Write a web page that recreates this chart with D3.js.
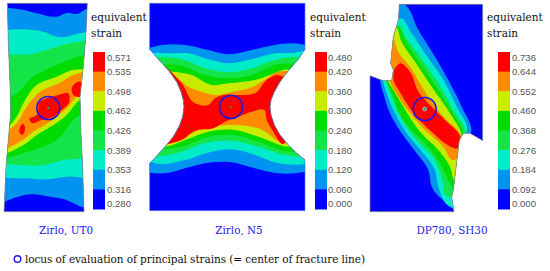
<!DOCTYPE html>
<html>
<head>
<meta charset="utf-8">
<script src="https://cdnjs.cloudflare.com/ajax/libs/d3/7.8.5/d3.min.js"></script>
<style>
  body { margin: 0; background: #fff; }
  svg { display: block; }
  .head { font-family: "DejaVu Serif", serif; font-size: 10.5px; fill: #111; }
  .cap { font-family: "DejaVu Serif", serif; font-size: 10.4px; fill: #2222ee; text-anchor: middle; }
  .tick { font-family: "Liberation Sans", sans-serif; font-size: 9.6px; fill: #555; }
</style>
</head>
<body>
<div id="graphic"></div>
<script>
// colour bands, lowest to highest
const bandColors = ["#0000ff", "#0094f0", "#00ecc8", "#14e448", "#00dc00", "#c8ec00", "#ff8c00", "#ff0000"];

// legend labels, top to bottom
const ticksUT0 = ["0.571", "0.535", "0.498", "0.462", "0.426", "0.389", "0.353", "0.316", "0.280"];
const ticksN5 = ["0.480", "0.420", "0.360", "0.300", "0.240", "0.180", "0.120", "0.060", "0.000"];
const ticksSH30 = ["0.736", "0.644", "0.552", "0.460", "0.368", "0.276", "0.184", "0.092", "0.000"];

const captions = ["Zirlo, UT0", "Zirlo, N5", "DP780, SH30"];
const footnote = "locus of evaluation of principal strains (= center of fracture line)";

// contour outlines, in 1/3 pixel units of each panel
const outlineUT0 = [[22,10],[262,10],[258,100],[250,200],[240,290],[243,400],[248,500],[252,635],[12,635],[18,500],[25,420],[32,340],[30,250],[25,130]];
const skyUT0 = [[0,24],[22,24],[60,28],[110,40],[170,50],[205,38],[230,42],[262,26],[290,26],[290,625],[252,622],[190,597],[150,590],[90,583],[40,595],[0,610]];
const cyanUT0 = [[0,95],[70,88],[130,95],[180,112],[240,100],[290,92],[290,535],[200,530],[140,538],[80,535],[0,530]];
const green1UT0 = [[0,165],[90,163],[140,150],[200,132],[290,122],[290,470],[190,480],[120,497],[60,495],[0,490]];
const green2UT0 = [[0,310],[50,280],[100,230],[170,195],[290,165],[290,335],[240,345],[170,420],[100,450],[0,470]];
const yellowUT0 = [[0,395],[30,375],[50,350],[70,310],[110,255],[170,230],[210,212],[248,208],[270,208],[270,290],[240,300],[200,345],[160,375],[110,405],[70,435],[0,460]];
const orangeUT0 = [[0,405],[25,390],[50,370],[80,320],[120,275],[180,248],[220,225],[270,218],[270,270],[242,280],[200,325],[150,365],[100,395],[60,425],[0,445]];
const redUT0a = [[88,358],[110,345],[120,305],[140,295],[175,285],[205,280],[208,305],[185,330],[160,350],[125,360],[95,368]];
const redUT0b = [[215,265],[235,245],[255,250],[250,290],[220,285]];
const redUT0c = [[58,395],[70,372],[75,380],[65,405]];

const outlineN5 = [[14,10],[480,10],[480,148],[460,178],[430,212],[405,245],[388,275],[378,300],[375,320],[378,345],[388,375],[405,405],[430,435],[455,460],[480,480],[480,632],[14,632],[14,490],[35,468],[60,440],[85,410],[103,378],[113,350],[117,320],[115,300],[108,275],[95,245],[70,210],[40,178],[14,148]];
const skyN5 = [[0,148],[50,135],[120,135],[190,150],[250,163],[320,150],[390,135],[440,130],[500,140],[500,510],[445,520],[400,520],[330,505],[260,487],[200,487],[120,505],[60,520],[0,515]];
const cyanN5 = [[0,160],[70,160],[130,160],[190,178],[250,190],[320,178],[390,160],[450,158],[500,148],[500,488],[400,490],[330,465],[260,448],[200,455],[120,480],[50,492],[0,480]];
const green1N5 = [[0,178],[110,178],[180,205],[250,217],[320,205],[390,180],[500,175],[500,470],[420,465],[340,440],[260,422],[190,427],[100,458],[0,468]];
const green2N5 = [[30,197],[110,197],[180,225],[250,235],[320,225],[390,195],[470,195],[470,455],[430,455],[340,425],[265,405],[190,410],[110,440],[30,445]];
const yellowN5 = [[40,215],[85,215],[140,225],[200,255],[250,250],[330,240],[375,225],[415,210],[460,210],[460,440],[430,440],[340,410],[270,390],[190,395],[120,420],[60,440],[30,440]];
const orangeN5 = [[60,235],[95,235],[130,260],[170,275],[215,285],[265,275],[320,262],[355,242],[400,215],[440,215],[440,430],[420,430],[340,385],[250,375],[190,382],[130,405],[70,432],[40,432]];
const redN5 = [[60,200],[110,250],[150,310],[190,315],[210,295],[235,285],[280,285],[330,280],[365,240],[395,225],[430,240],[430,410],[415,432],[385,395],[365,360],[358,330],[320,335],[280,350],[240,365],[205,385],[150,392],[110,420],[70,432],[40,440]];

const outlineSH30 = [[118,13],[368,13],[368,422],[330,400],[310,400],[298,420],[280,570],[275,590],[282,635],[30,635],[30,227],[70,242],[95,242],[100,210],[92,190],[100,110],[115,60]];
const skySH30 = [[118,0],[145,25],[170,80],[225,170],[270,250],[305,320],[332,400],[320,420],[300,660],[285,635],[215,560],[205,510],[170,460],[125,400],[90,340],[70,280],[60,240],[90,100]];
const cyanSH30 = [[125,55],[155,100],[195,160],[250,240],[290,320],[320,395],[300,420],[290,625],[270,620],[235,560],[225,510],[190,460],[140,400],[105,340],[80,280],[70,245],[90,120]];
const green1SH30 = [[118,75],[140,115],[180,170],[235,250],[280,330],[315,400],[300,430],[285,590],[265,590],[245,530],[225,480],[170,420],[120,350],[95,290],[78,245],[90,120]];
const green2SH30 = [[112,78],[135,120],[172,178],[225,255],[275,335],[310,402],[298,460],[283,570],[268,545],[240,490],[205,440],[150,385],[110,320],[90,268],[80,245],[88,120]];
const yellowSH30 = [[108,80],[125,125],[165,185],[215,260],[270,340],[305,405],[300,480],[282,540],[270,500],[235,450],[180,395],[130,320],[100,270],[85,245],[85,120]];
const orangeSH30 = [[100,115],[115,155],[150,200],[195,275],[250,350],[305,410],[300,470],[280,480],[250,440],[195,390],[150,340],[115,290],[90,245],[85,190]];
const redSH30 = [[105,205],[120,190],[150,215],[175,275],[215,320],[255,360],[302,420],[292,445],[255,430],[220,400],[165,345],[125,285],[100,235]];

const panels = [
  { left: 0, outline: outlineUT0, ticks: ticksUT0, caption: captions[0], capX: 66, headX: 91, barX: 93, labelX: 107, circle: [145, 324], spot: "#10c060",
    layers: [[1, skyUT0], [2, cyanUT0], [3, green1UT0], [4, green2UT0], [5, yellowUT0], [6, orangeUT0], [7, redUT0a], [7, redUT0b], [7, redUT0c]] },
  { left: 145, outline: outlineN5, ticks: ticksN5, caption: captions[1], capX: 239, headX: 310, barX: 315, labelX: 328, circle: [258, 321], spot: "#20a040",
    layers: [[1, skyN5], [2, cyanN5], [3, green1N5], [4, green2N5], [5, yellowN5], [6, orangeN5], [7, redN5]] },
  { left: 360, outline: outlineSH30, ticks: ticksSH30, caption: captions[2], capX: 452, headX: 487, barX: 498, labelX: 512, circle: [194, 327], spot: "#20b090",
    layers: [[1, skySH30], [2, cyanSH30], [3, green1SH30], [4, green2SH30], [5, yellowSH30], [6, orangeSH30], [7, redSH30]] }
];

const width = 550, height = 271;

const svg = d3.select("#graphic").append("svg")
  .attr("width", width)
  .attr("height", height);

// cropped picture units to pixels
const yScale = d3.scaleLinear().domain([0, 813]).range([0, height]);

const barY = d3.scaleBand()
  .domain(d3.range(bandColors.length))
  .range([52, 209]);

panels.forEach(function(p, i){
  const xScale = d3.scaleLinear().domain([0, 3]).range([p.left, p.left + 1]);

  const smooth = d3.line()
    .x(d => xScale(d[0]))
    .y(d => yScale(d[1]))
    .curve(d3.curveCatmullRomClosed.alpha(1));

  const straight = d3.line()
    .x(d => xScale(d[0]))
    .y(d => yScale(d[1]))
    .curve(d3.curveLinearClosed);

  svg.append("clipPath")
    .attr("id", "clip" + i)
    .append("path")
    .attr("d", straight(p.outline));

  svg.append("path")
    .attr("d", straight(p.outline))
    .attr("fill", bandColors[0]);

  const g = svg.append("g").attr("clip-path", `url(#clip${i})`);

  g.selectAll("path")
      .data(p.layers)
    .enter().append("path")
      .attr("d", d => smooth(d[1]))
      .attr("fill", d => bandColors[d[0]]);

  // outline on top of the contours
  svg.append("path")
    .attr("d", straight(p.outline))
    .attr("fill", "none")
    .attr("stroke", i === 1 ? "#5a78e0" : "#8a8a8a")
    .attr("stroke-width", 0.7);

  // marker circle and its centre
  svg.append("circle")
    .attr("cx", xScale(p.circle[0]))
    .attr("cy", yScale(p.circle[1]))
    .attr("r", 11.5)
    .attr("fill", "none")
    .attr("stroke", "#1a1ae0")
    .attr("stroke-width", 1.6);

  svg.append("circle")
    .attr("cx", xScale(p.circle[0]))
    .attr("cy", yScale(p.circle[1]))
    .attr("r", i === 2 ? 2 : 1)
    .attr("fill", p.spot)
    .attr("stroke", i === 2 ? "#e8e8e8" : "none")
    .attr("stroke-width", 0.5);

  // legend bar, red on top
  svg.selectAll(".bar" + i)
      .data(bandColors.slice().reverse())
    .enter().append("rect")
      .attr("class", "bar" + i)
      .attr("x", p.barX)
      .attr("y", (d, k) => barY(k))
      .attr("width", 12)
      .attr("height", barY.bandwidth() + 0.5)
      .attr("fill", d => d);

  // first and last labels sit inside the bar ends
  const tickY = function(k){
    const inset = k === 0 ? 5.5 : k === p.ticks.length - 1 ? -5.5 : 0;
    return 52 + k * barY.bandwidth() + inset;
  };

  svg.selectAll(".tick" + i)
      .data(p.ticks)
    .enter().append("text")
      .attr("class", "tick tick" + i)
      .attr("x", p.labelX)
      .attr("y", (d, k) => tickY(k) + 3.4)
      .text(d => d);

  svg.append("text").attr("class", "head").attr("x", p.headX).attr("y", 20.5).text("equivalent");
  svg.append("text").attr("class", "head").attr("x", p.headX).attr("y", 36.5).text("strain");
  svg.append("text").attr("class", "cap").attr("x", p.capX).attr("y", 234).text(p.caption);
});

// footnote with its key circle
svg.append("circle")
  .attr("cx", 17.5)
  .attr("cy", 259)
  .attr("r", 3.3)
  .attr("fill", "none")
  .attr("stroke", "#1a1ae0")
  .attr("stroke-width", 1.4);

svg.append("text")
  .attr("class", "head")
  .attr("x", 25)
  .attr("y", 262.5)
  .attr("textLength", 340)
  .text(footnote);
</script>
</body>
</html>
